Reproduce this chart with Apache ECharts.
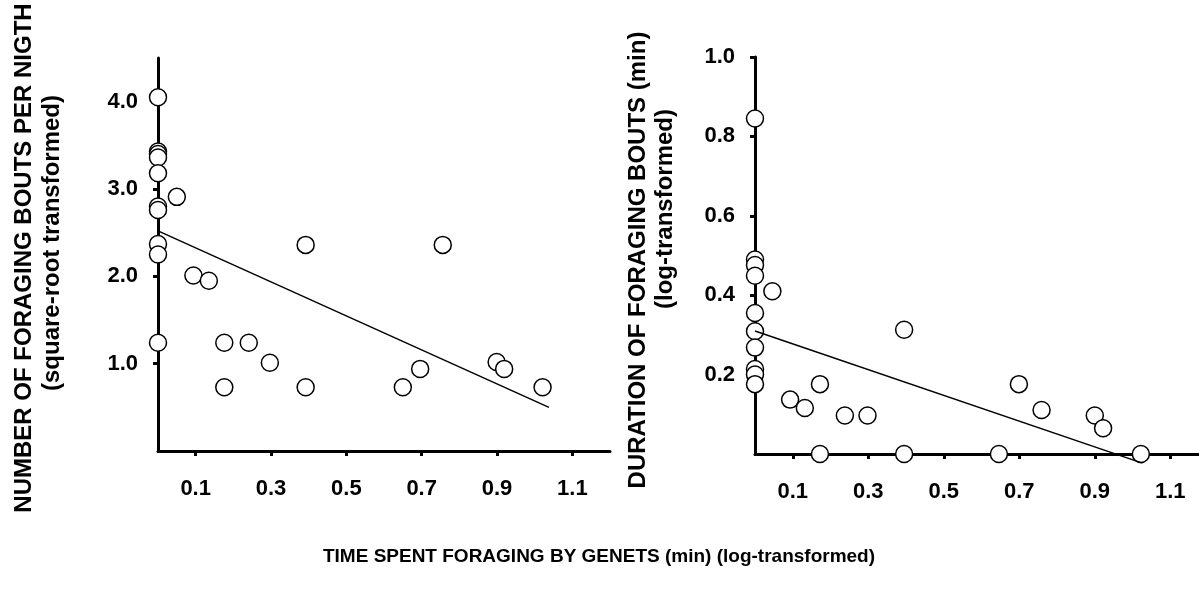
<!DOCTYPE html>
<html>
<head>
<meta charset="utf-8">
<script src="https://cdn.jsdelivr.net/npm/echarts@6/dist/echarts.min.js"></script>
<style>
  html, body { margin: 0; padding: 0; background: #fff; }
  #chart { width: 1199px; height: 596px; }
</style>
</head>
<body>
<div id="chart"></div>
<script>
// Left panel: foraging time vs. number of bouts per night (sqrt-transformed)
const boutsTime = [0, 0, 0, 0, 0, 0, 0, 0, 0, 0,
  0.05, 0.094, 0.135, 0.176, 0.241, 0.297, 0.176, 0.392, 0.392,
  0.65, 0.696, 0.756, 0.899, 0.919, 1.021];
const boutsCount = [4.05, 3.43, 3.40, 3.36, 3.18, 2.80, 2.76, 2.37, 2.25, 1.24,
  2.91, 2.01, 1.95, 1.24, 1.24, 1.01, 0.73, 0.73, 2.36,
  0.73, 0.94, 2.36, 1.02, 0.94, 0.73];
const boutsFit = [[0, 2.52], [1.038, 0.50]];

// Right panel: foraging time vs. bout duration (log-transformed)
const durTime = [0, 0, 0, 0, 0, 0, 0, 0, 0, 0,
  0.046, 0.093, 0.132, 0.172, 0.238, 0.298, 0.395, 0.172, 0.395,
  0.646, 0.699, 0.759, 0.90, 0.922, 1.022];
const durValue = [0.845, 0.49, 0.476, 0.449, 0.355, 0.309, 0.268, 0.214, 0.20, 0.176,
  0.41, 0.137, 0.116, 0.176, 0.097, 0.097, 0.313, 0, 0,
  0, 0.176, 0.111, 0.097, 0.065, 0];
const durFit = [[0, 0.31], [1.026, -0.023]];

// Tick labels
const xTicks = [0.1, 0.3, 0.5, 0.7, 0.9, 1.1];
const yTicksLeft = [1, 2, 3, 4];
const yTicksRight = [0.2, 0.4, 0.6, 0.8, 1.0];

const FONT = '"Liberation Sans", Arial, Helvetica, sans-serif';
const pairs = (xs, ys) => xs.map((x, i) => [x, ys[i]]);

function xAxisCfg(gridIndex, max) {
  return {
    type: 'value', gridIndex, min: 0, max,
    axisLine: { show: true, onZero: false, lineStyle: { color: '#000', width: 3 } },
    axisTick: { show: true, length: 5, lineStyle: { color: '#000', width: 3 }, customValues: xTicks },
    axisLabel: { customValues: xTicks, formatter: v => v.toFixed(1), margin: 27,
      color: '#000', fontFamily: FONT, fontWeight: 'bold', fontSize: 22 },
    splitLine: { show: false }
  };
}
function yAxisCfg(gridIndex, max, ticks) {
  return {
    type: 'value', gridIndex, min: 0, max,
    axisLine: { show: true, onZero: false, lineStyle: { color: '#000', width: 3 } },
    axisTick: { show: true, length: 5, lineStyle: { color: '#000', width: 3 }, customValues: ticks },
    axisLabel: { customValues: ticks, formatter: v => v.toFixed(1), margin: 20,
      color: '#000', fontFamily: FONT, fontWeight: 'bold', fontSize: 22 },
    splitLine: { show: false }
  };
}
function pointSeries(idx, data) {
  return {
    type: 'scatter', xAxisIndex: idx, yAxisIndex: idx, data, clip: false,
    symbol: 'circle', symbolSize: 17, z: 3,
    itemStyle: { color: '#fff', borderColor: '#000', borderWidth: 1.5, opacity: 1 },
    emphasis: { disabled: true }
  };
}
function fitSeries(idx, data) {
  return {
    type: 'line', xAxisIndex: idx, yAxisIndex: idx, data, clip: false,
    symbol: 'none', z: 4, lineStyle: { color: '#000', width: 1.5 },
    emphasis: { disabled: true }
  };
}
function titleText(text, x, y, size, rotated) {
  return {
    type: 'text', x, y, rotation: rotated ? Math.PI / 2 : 0,
    style: { text, fill: '#000', fontFamily: FONT, fontWeight: 'bold', fontSize: size,
      align: 'center', verticalAlign: 'middle' }
  };
}

const chart = echarts.init(document.getElementById('chart'), null, { renderer: 'canvas' });
chart.setOption({
  animation: false,
  backgroundColor: '#fff',
  grid: [
    { left: 158, top: 58, width: 452, bottom: 145 },
    { left: 755, top: 57, right: 0, bottom: 142 }
  ],
  xAxis: [xAxisCfg(0, 1.2), xAxisCfg(1, 1.176)],
  yAxis: [yAxisCfg(0, 4.5, yTicksLeft), yAxisCfg(1, 1.0, yTicksRight)],
  series: [
    pointSeries(0, pairs(boutsTime, boutsCount)),
    fitSeries(0, boutsFit),
    pointSeries(1, pairs(durTime, durValue)),
    fitSeries(1, durFit)
  ],
  graphic: [
    titleText('NUMBER OF FORAGING BOUTS PER NIGTH', 24, 258, 24, true),
    titleText('(square-root transformed)', 52, 243, 24, true),
    titleText('DURATION OF FORAGING BOUTS (min)', 638, 260, 24, true),
    titleText('(log-transformed)', 665, 209, 24, true),
    titleText('TIME SPENT FORAGING BY GENETS (min) (log-transformed)', 599, 557, 19, false)
  ]
});
</script>
</body>
</html>
